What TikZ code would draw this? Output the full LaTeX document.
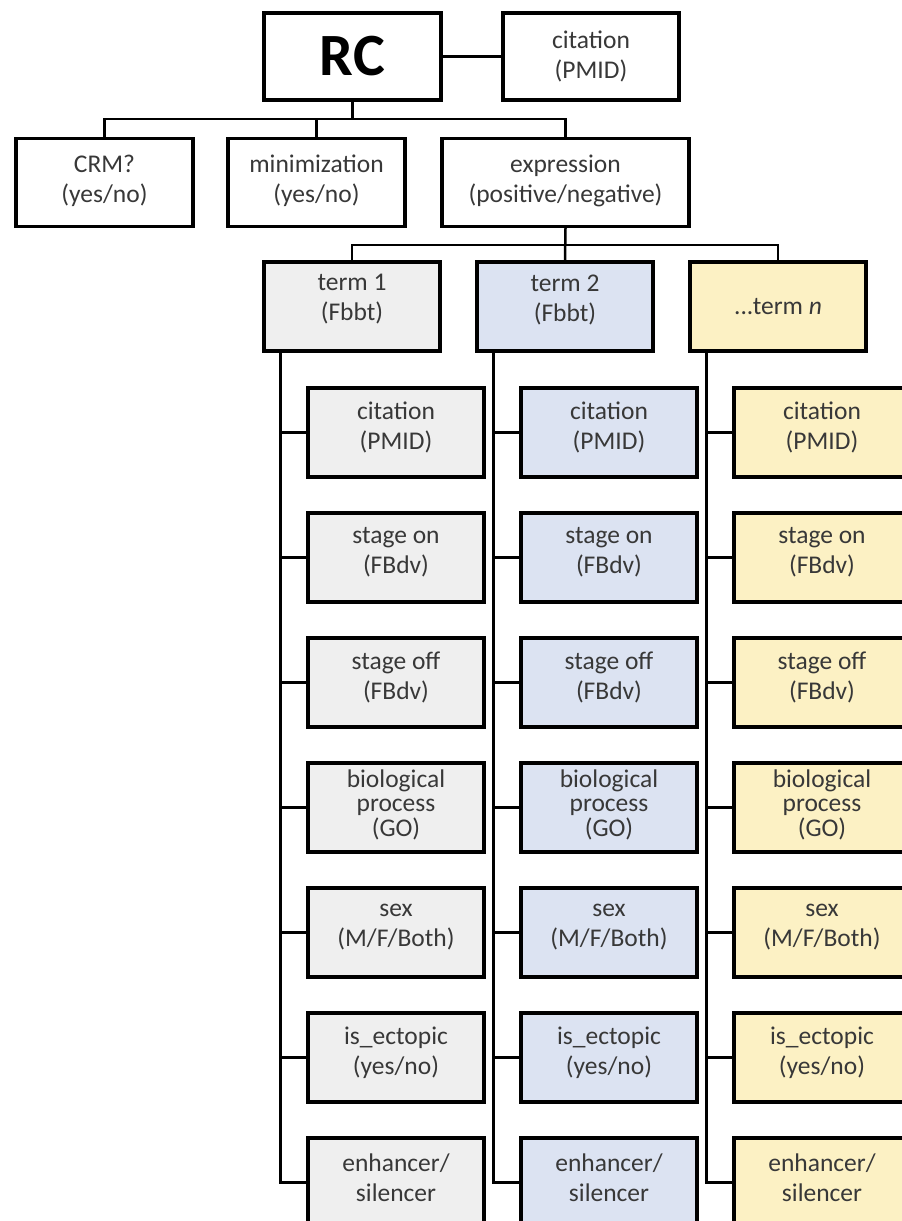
\documentclass[tikz,border=0pt]{standalone}
\usepackage{fontspec}
\setmainfont{Carlito}
\definecolor{txt}{HTML}{383838}
\definecolor{fgray}{HTML}{EFEFEF}
\definecolor{fblue}{HTML}{DCE3F2}
\definecolor{fyel}{HTML}{FCF1C4}
\tikzset{
  box/.style={draw=black, line width=3.5pt, inner sep=0pt,
    minimum width=176pt, minimum height=88pt},
  tbox/.style={box, minimum height=89pt},
  wbox/.style={box, fill=white},
  gbox/.style={tbox, fill=fgray},
  bbox/.style={tbox, fill=fblue},
  ybox/.style={tbox, fill=fyel},
  lab/.style={align=center, text=txt, inner sep=0pt,
    font=\fontsize{25.5}{30}\selectfont},
  tx/.style 2 args={label={[lab, yshift=#1]center:{#2}}},
  txb/.style 2 args={label={[lab, font=\fontsize{25.5}{24.5}\selectfont, yshift=#1]center:{#2}}},
  conn/.style={line width=2.5pt, line cap=rect},
  branch/.style={line width=3.5pt},
}
\begin{document}
\begin{tikzpicture}[x=1pt, y=-1pt]
\useasboundingbox (0,0) rectangle (902,1221);
\clip (0,0) rectangle (902,1221);
\fill[white] (0,0) rectangle (902,1221);

% top level
\node[wbox, minimum width=177pt, minimum height=87pt, text=black,
      font=\fontsize{60}{60}\selectfont\bfseries] (rc) at (352.5,56.5) {RC};
\node[wbox, minimum height=87pt, tx={0pt}{citation\\(PMID)}] (cit0) at (591,56.5) {};
\node[wbox, minimum width=177pt, tx={2pt}{CRM?\\(yes/no)}] (crm) at (104.5,182.5) {};
\node[wbox, minimum width=177pt, tx={2pt}{minimization\\(yes/no)}] (min) at (316.5,182.5) {};
\node[wbox, minimum width=247pt, tx={2pt}{expression\\(positive/negative)}] (expr) at (565.5,182.5) {};

\coordinate (bus1) at (0,119);
\coordinate (bus2) at (0,245);

\draw[conn] (rc) -- (cit0);
\draw[conn] (rc.south) -- (rc.south |- bus1);
\draw[conn] (crm.north) |- (expr.north |- bus1) -- (expr.north);
\draw[conn] (min.north) -- (min.north |- bus1);

% terms
\node[gbox, tx={7pt}{term 1\\(Fbbt)}] (t1) at (352,306.5) {};
\node[bbox, tx={7pt}{term 2\\(Fbbt)}] (t2) at (565,306.5) {};
\node[ybox, tx={0pt}{...term \textit{n}}] (t3) at (778,306.5) {};

\draw[conn] (t1.north) |- (t3.north |- bus2) -- (t3.north);
\draw[conn] (expr.south) -- (t2.north);

% sub boxes
\foreach \col/\cx/\sty in {1/396/gbox, 2/609/bbox, 3/822/ybox}{
  \node[\sty, tx={5pt}{citation\\(PMID)}] (c\col r1) at (\cx,432.5) {};
  \node[\sty, tx={5pt}{stage on\\(FBdv)}] (c\col r2) at (\cx,557.5) {};
  \node[\sty, tx={5pt}{stage off\\(FBdv)}] (c\col r3) at (\cx,682.5) {};
  \node[\sty, txb={3pt}{biological\\process\\(GO)}] (c\col r4) at (\cx,807.5) {};
  \node[\sty, tx={5pt}{sex\\(M/F/Both)}] (c\col r5) at (\cx,932.5) {};
  \node[\sty, tx={5pt}{is\_ectopic\\(yes/no)}] (c\col r6) at (\cx,1057.5) {};
  \node[\sty, tx={5pt}{enhancer/\\silencer}] (c\col r7) at (\cx,1182.5) {};
}

\foreach \col in {1,2,3}{
  \coordinate (tr\col) at ([xshift=18pt]t\col.south west);
  \draw[conn] (tr\col) |- (c\col r7.west);
  \foreach \r in {1,...,6}{
    \draw[branch] (c\col r\r.west) -- (c\col r\r.west -| tr\col);
  }
}
\end{tikzpicture}
\end{document}
